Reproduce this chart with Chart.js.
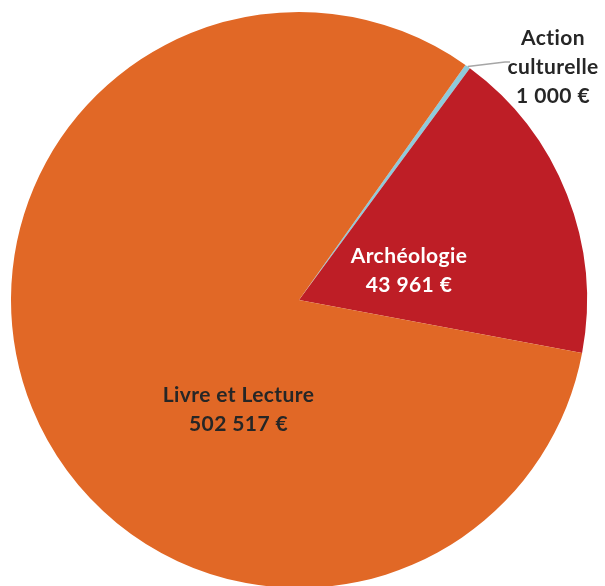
<!DOCTYPE html>
<html>
<head>
<meta charset="utf-8">
<script src="https://cdn.jsdelivr.net/npm/chart.js@4/dist/chart.umd.min.js"></script>
<style>
  html, body { margin: 0; padding: 0; background: #fff; overflow: hidden; }
  #pie { display: block; }
</style>
</head>
<body>
<canvas id="pie" width="605" height="600"></canvas>
<script>
// categories, in drawing order (clockwise from the start angle)
const categories = ["Action culturelle", "Archéologie", "Livre et Lecture"];
// amounts printed in the labels (€)
const amounts = [1000, 43961, 502517];
// slice sizes as drawn in the picture (degrees of the circle)
const sliceShares = [1.1, 64.2, 294.7];
const colors = ["#8ECADB", "#BE1E26", "#E16826"];
const textColors = ["#262626", "#FFFFFF", "#262626"];
// label line breaks
const labelLines = [["Action", "culturelle"], ["Archéologie"], ["Livre et Lecture"]];

function euro(v) {
  // French style: thin groups with a plain space
  return String(v).replace(/\B(?=(\d{3})+(?!\d))/g, " ") + " €";
}

const pieLabels = {
  id: "pieLabels",
  afterDatasetsDraw(chart, args, opts) {
    const { ctx } = chart;
    const meta = chart.getDatasetMeta(0);
    ctx.save();
    ctx.font = "bold 21px Lato";
    ctx.letterSpacing = "0.4px";
    ctx.textAlign = "center";
    ctx.textBaseline = "alphabetic";
    meta.data.forEach((arc, i) => {
      const r = arc.outerRadius;
      const [fx, fy] = opts.place[i];
      const x = arc.x + fx * r;
      const y = arc.y + fy * r;
      const lines = labelLines[i].concat([euro(amounts[i])]);
      ctx.fillStyle = textColors[i];
      lines.forEach((t, k) => ctx.fillText(t, x, y + k * opts.lineHeight));

      if (i === 0) {
        // leader line from the thin slice to its label
        const mid = (arc.startAngle + arc.endAngle) / 2;
        const sx = arc.x + Math.cos(mid) * r;
        const sy = arc.y + Math.sin(mid) * r;
        ctx.strokeStyle = "#A6A6A6";
        ctx.lineWidth = 1.5;
        ctx.beginPath();
        ctx.moveTo(sx, sy);
        ctx.lineTo(x - 48, y + 17);
        ctx.lineTo(x - 43, y + 17);
        ctx.stroke();
      }
    });
    ctx.restore();
  }
};

new Chart(document.getElementById("pie"), {
  type: "pie",
  data: {
    labels: categories,
    datasets: [{
      data: sliceShares,
      backgroundColor: colors,
      borderWidth: 0,
    }],
  },
  options: {
    responsive: false,
    animation: false,
    rotation: 35.3,
    layout: { padding: { left: 11, right: 18, top: 12, bottom: 12 } },
    plugins: {
      legend: { display: false },
      tooltip: { enabled: false },
      pieLabels: {
        lineHeight: 29,
        place: [[0.882, -0.885], [0.382, -0.128], [-0.21, 0.354]],
      },
    },
  },
  plugins: [pieLabels],
});
</script>
</body>
</html>
